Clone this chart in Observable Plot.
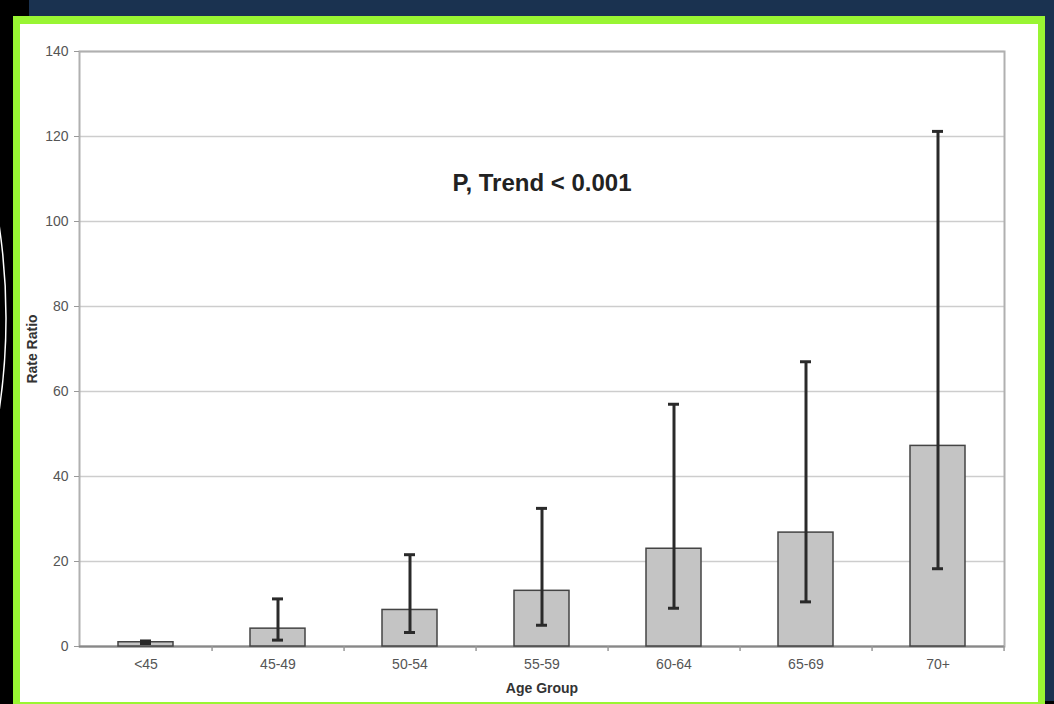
<!DOCTYPE html>
<html><head><meta charset="utf-8">
<script src="https://cdn.jsdelivr.net/npm/d3@7"></script>
<script src="https://cdn.jsdelivr.net/npm/@observablehq/plot@0.6"></script>
<style>
html,body{margin:0;padding:0;background:#000;width:1054px;height:704px;overflow:hidden;}
#navy{position:absolute;left:29px;top:0;width:1025px;height:701px;background:#1a3250;}
#green{position:absolute;left:13px;top:16px;width:1032px;height:688px;background:#99f533;}
#panel{position:absolute;left:20px;top:24px;width:1018px;height:678px;background:#fff;}
#arc{position:absolute;left:0;top:0;}
</style></head><body>
<svg id="arc" width="13" height="704"><circle cx="-613" cy="318" r="619" fill="none" stroke="#fff" stroke-width="1.5"/></svg>
<div id="navy"></div><div id="green"></div><div id="panel"></div>
<script>
const categories = ["<45", "45-49", "50-54", "55-59", "60-64", "65-69", "70+"];
const rateRatio  = [1.0, 4.2, 8.6, 13.1, 23.0, 26.8, 47.2];
const ciLower    = [0.7, 1.5, 3.3, 5.0, 9.0, 10.5, 18.3];
const ciUpper    = [1.3, 11.2, 21.6, 32.5, 57.0, 67.0, 121.2];
const yTicks     = [0, 20, 40, 60, 80, 100, 120, 140];
const annotationText = ["P, Trend < 0.001"];
const annotationAt = ["55-59"];
const annotationY = [109];

const rows = categories.map((c, i) => ({group: c, rr: rateRatio[i], lo: ciLower[i], hi: ciUpper[i]}));
const notes = annotationText.map((t, i) => ({label: t, x: annotationAt[i], y: annotationY[i]}));

const W = 1018, H = 678, mL = 59, mR = 34, mT = 27, mB = 56;
const step = (W - mL - mR) / categories.length;
const font = "'Liberation Sans', Arial, Helvetica, sans-serif";

const chart = Plot.plot({
  width: W, height: H,
  marginLeft: mL, marginRight: mR, marginTop: mT, marginBottom: mB,
  style: {fontFamily: font, fontSize: "14px", color: "#555", background: "transparent", overflow: "visible"},
  x: {domain: categories, paddingInner: 0.584, paddingOuter: 0.292},
  y: {domain: [0, 140]},
  marks: [
    Plot.gridY(yTicks, {stroke: "#cdcdcd", strokeOpacity: 1, strokeWidth: 1.5}),
    Plot.frame({stroke: "#b0b0b0", strokeWidth: 2}),
    Plot.ruleY([0], {stroke: "#888", strokeWidth: 2}),
    Plot.ruleX(rows, {x: "group", y1: 0, y2: 0, dx: step / 2, insetTop: 5, stroke: "#999", strokeWidth: 1.5}),
    Plot.barY(rows, {x: "group", y: "rr", fill: "#c4c4c4", stroke: "#444", strokeWidth: 1.5}),
    Plot.ruleX(rows, {x: "group", y1: "lo", y2: "hi", stroke: "#2a2a2a", strokeWidth: 3}),
    Plot.tickY(rows, {x: "group", y: "lo", insetLeft: 22, insetRight: 22, stroke: "#2a2a2a", strokeWidth: 3}),
    Plot.tickY(rows, {x: "group", y: "hi", insetLeft: 22, insetRight: 22, stroke: "#2a2a2a", strokeWidth: 3}),
    Plot.text(notes, {x: "x", y: "y", text: "label", fontSize: 24, fontWeight: "bold", fill: "#222"}),
    Plot.axisY(yTicks, {tickSize: 5, tickPadding: 6, stroke: "#999", fill: "#555", fontSize: 14,
      label: "Rate Ratio", labelAnchor: "center", labelArrow: "none", labelOffset: 52}),
    Plot.axisX({tickSize: 0, tickPadding: 13, fill: "#555", fontSize: 14,
      label: "Age Group", labelAnchor: "center", labelArrow: "none", labelOffset: 46})
  ]
});
d3.select(chart).selectAll('g[aria-label="y-axis label"], g[aria-label="x-axis label"]')
  .attr("font-weight", "bold").attr("fill", "#333");
chart.style.position = "absolute";
chart.style.left = "20px";
chart.style.top = "24px";
document.body.appendChild(chart);
</script>
</body></html>
